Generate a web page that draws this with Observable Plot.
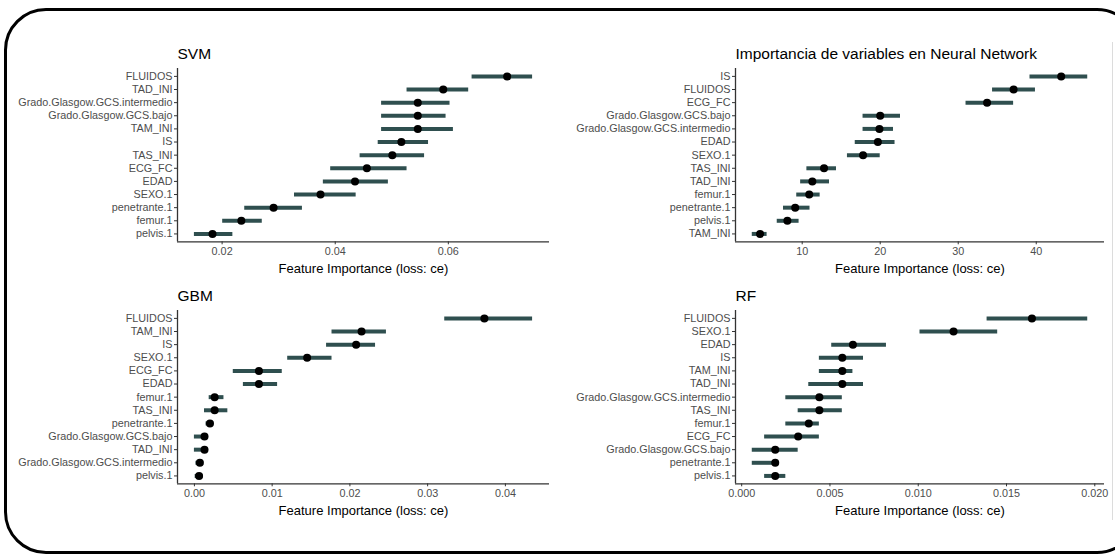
<!DOCTYPE html>
<html>
<head>
<meta charset="utf-8">
<script src="https://cdn.jsdelivr.net/npm/d3@7"></script>
<script src="https://cdn.jsdelivr.net/npm/@observablehq/plot@0.6"></script>
<style>
  html, body { margin: 0; padding: 0; background: #fff; overflow: hidden; }
  #wrap { position: relative; width: 1115px; height: 554px; overflow: hidden; font-family: "Liberation Sans", Arial, sans-serif; }
  #border { position: absolute; left: 4px; top: 8px; width: 1135px; height: 546px; box-sizing: border-box;
            border: 3px solid #000; border-radius: 42px; }
  #edge { position: absolute; left: 1112px; top: 42px; width: 1px; height: 478px; background: #dcdcdc; }
  .panel { position: absolute; }
  .panel svg { overflow: visible; }
</style>
</head>
<body>
<div id="wrap">
  <div id="border"></div>
  <div id="edge"></div>
</div>
<script>
// ---------- data ----------
const axisTitle = "Feature Importance (loss: ce)";

const svmTitle = "SVM";
const svmFeatures = ["FLUIDOS","TAD_INI","Grado.Glasgow.GCS.intermedio","Grado.Glasgow.GCS.bajo","TAM_INI","IS","TAS_INI","ECG_FC","EDAD","SEXO.1","penetrante.1","femur.1","pelvis.1"];
const svmImp = [0.0704,0.0591,0.0546,0.0546,0.0546,0.0517,0.0501,0.0456,0.0435,0.0374,0.0291,0.0234,0.0183];
const svmLo  = [0.0642,0.0527,0.0482,0.0482,0.0482,0.0476,0.0444,0.0392,0.0379,0.0328,0.0240,0.0201,0.0151];
const svmHi  = [0.0749,0.0636,0.0603,0.0596,0.0609,0.0565,0.0558,0.0527,0.0494,0.0437,0.0342,0.0271,0.0219];
const svmTicks = [0.02,0.04,0.06];

const nnTitle = "Importancia de variables en Neural Network";
const nnFeatures = ["IS","FLUIDOS","ECG_FC","Grado.Glasgow.GCS.bajo","Grado.Glasgow.GCS.intermedio","EDAD","SEXO.1","TAS_INI","TAD_INI","femur.1","penetrante.1","pelvis.1","TAM_INI"];
const nnImp = [43.2,37.1,33.7,20.0,19.9,19.7,17.8,12.8,11.3,10.9,9.1,8.1,4.6];
const nnLo  = [39.2,34.4,31.0,17.8,17.8,16.8,15.8,10.6,9.8,9.3,7.6,6.8,3.6];
const nnHi  = [46.6,39.9,37.1,22.6,21.7,21.9,20.0,14.4,13.5,12.3,11.0,9.6,5.5];
const nnTicks = [10,20,30,40];

const gbmTitle = "GBM";
const gbmFeatures = ["FLUIDOS","TAM_INI","IS","SEXO.1","ECG_FC","EDAD","femur.1","TAS_INI","penetrante.1","Grado.Glasgow.GCS.bajo","TAD_INI","Grado.Glasgow.GCS.intermedio","pelvis.1"];
const gbmImp = [0.0373,0.0215,0.0208,0.0145,0.0083,0.0083,0.0026,0.0026,0.0020,0.0013,0.0013,0.0007,0.0006];
const gbmLo  = [0.0322,0.0177,0.0170,0.0120,0.0050,0.0063,0.0019,0.0013,0.0015,0.0000,0.0000,0.0002,0.0001];
const gbmHi  = [0.0435,0.0247,0.0233,0.0177,0.0113,0.0107,0.0038,0.0043,0.0025,0.0018,0.0018,0.0012,0.0011];
const gbmTicks = [0,0.01,0.02,0.03,0.04];

const rfTitle = "RF";
const rfFeatures = ["FLUIDOS","SEXO.1","EDAD","IS","TAM_INI","TAD_INI","Grado.Glasgow.GCS.intermedio","TAS_INI","femur.1","ECG_FC","Grado.Glasgow.GCS.bajo","penetrante.1","pelvis.1"];
const rfImp = [0.01644,0.0120,0.0063,0.0057,0.0057,0.0057,0.0044,0.0044,0.0038,0.0032,0.0019,0.0019,0.0019];
const rfLo  = [0.0139,0.0101,0.0051,0.0044,0.0044,0.0038,0.0025,0.0032,0.0025,0.0013,0.0006,0.0006,0.0013];
const rfHi  = [0.0196,0.0145,0.0082,0.0069,0.0063,0.0069,0.0057,0.0057,0.0044,0.0044,0.0032,0.0019,0.0025];
const rfTicks = [0,0.005,0.010,0.015,0.020];

// ---------- drawing ----------
const FONT = '"Liberation Sans", Arial, sans-serif';

function panel({title, features, imp, lo, hi, ticks, fmt, left, top, width, marginLeft, marginRight}) {
  const rows = features.map((f, i) => ({feature: f, idx: i, imp: imp[i], lo: lo[i], hi: hi[i]}));
  const xmin = d3.min(lo), xmax = d3.max(hi), pad = (xmax - xmin) * 0.05;
  const n = features.length;
  const yTop = -0.6, yBot = n - 1 + 0.6;
  const chart = Plot.plot({
    width, height: 277,
    marginLeft, marginRight, marginTop: 68, marginBottom: 35.7,
    style: {fontFamily: FONT, background: "transparent", overflow: "visible"},
    x: {domain: [xmin - pad, xmax + pad], ticks, tickFormat: fmt},
    y: {domain: [yBot, yTop]},
    marks: [
      Plot.axisX({ticks, tickFormat: fmt, tickSize: 3, tickPadding: 2.5, fontSize: 10.8, fill: "#4d4d4d", stroke: "#333", label: null}),
      Plot.axisY(d3.range(n), {tickFormat: i => features[i], tickSize: 3, tickPadding: 2, fontSize: 10.8, fill: "#4d4d4d", stroke: "#333", label: null}),
      Plot.ruleX([xmin - pad], {stroke: "#333", strokeWidth: 1.3}),
      Plot.ruleY([yBot], {stroke: "#333", strokeWidth: 1.3}),
      Plot.ruleY(rows, {y: "idx", x1: "lo", x2: "hi", stroke: "#2F4F4F", strokeWidth: 4}),
      Plot.dot(rows, {x: "imp", y: "idx", r: 4, fill: "#000", stroke: null}),
      Plot.text([title], {frameAnchor: "top-left", textAnchor: "start", lineAnchor: "bottom", dy: -10, fontSize: 15.5, fill: "#000"}),
      Plot.text([axisTitle], {frameAnchor: "bottom", lineAnchor: "middle", dy: 27, fontSize: 13, fill: "#000"})
    ]
  });
  const div = document.createElement("div");
  div.className = "panel";
  div.style.left = left + "px";
  div.style.top = top + "px";
  div.appendChild(chart);
  document.getElementById("wrap").appendChild(div);
}

const f2 = d3.format(".2f"), f3 = d3.format(".3f"), f0 = d3.format("d");

panel({title: svmTitle, features: svmFeatures, imp: svmImp, lo: svmLo, hi: svmHi, ticks: svmTicks, fmt: f2,
       left: 0, top: 0, width: 557, marginLeft: 177, marginRight: 8});
panel({title: nnTitle, features: nnFeatures, imp: nnImp, lo: nnLo, hi: nnHi, ticks: nnTicks, fmt: f0,
       left: 557, top: 0, width: 558, marginLeft: 178, marginRight: 11});
panel({title: gbmTitle, features: gbmFeatures, imp: gbmImp, lo: gbmLo, hi: gbmHi, ticks: gbmTicks, fmt: f2,
       left: 0, top: 242, width: 557, marginLeft: 177, marginRight: 8});
panel({title: rfTitle, features: rfFeatures, imp: rfImp, lo: rfLo, hi: rfHi, ticks: rfTicks, fmt: f3,
       left: 557, top: 242, width: 558, marginLeft: 178, marginRight: 11});
</script>
</body>
</html>
